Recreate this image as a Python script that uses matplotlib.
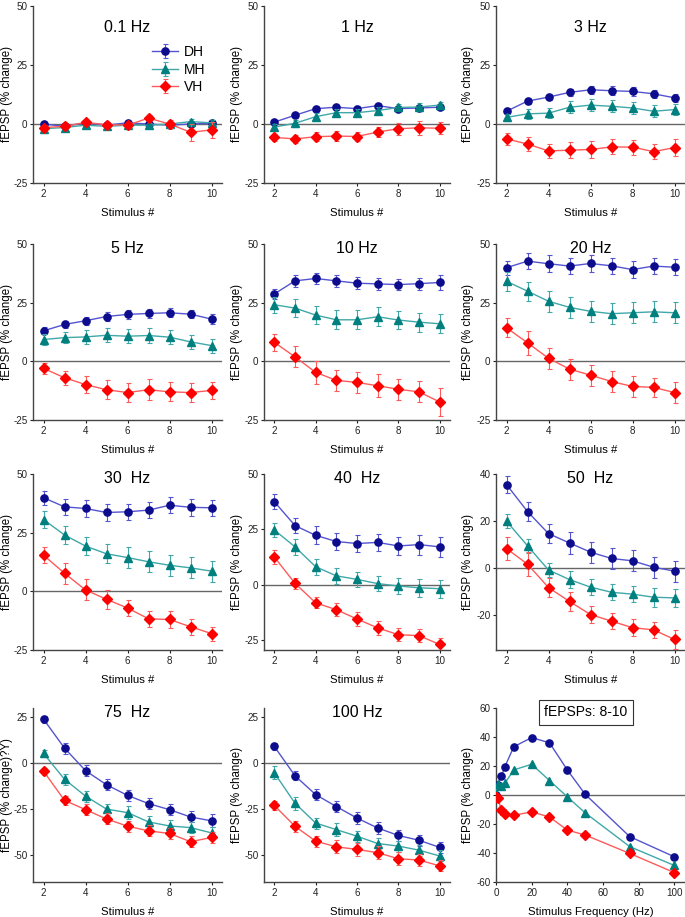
import matplotlib
matplotlib.use("Agg")
import matplotlib.pyplot as plt
import numpy as np

plt.rcParams['font.family'] = ['Liberation Sans', 'DejaVu Sans']
plt.rcParams['axes.unicode_minus'] = False

stim = [2, 3, 4, 5, 6, 7, 8, 9, 10]
titles = ['0.1 Hz', '1 Hz', '3 Hz', '5 Hz', '10 Hz', '20 Hz',
          '30  Hz', '40  Hz', '50  Hz', '75  Hz', '100 Hz']

# mean % change, one list per panel
dh_mean = [
    [0, -1, 0.5, -0.5, 0.5, 0, -0.5, 0, 0.3],
    [0.8, 3.7, 6.5, 7.1, 6.5, 7.8, 6.5, 6.8, 7.1],
    [5.4, 9.7, 11.4, 13.4, 14.5, 14.1, 13.8, 12.8, 11.1],
    [13, 15.7, 17.3, 19.1, 20, 20.4, 20.7, 20.1, 18],
    [28.7, 34.3, 35.3, 34.3, 33.3, 33, 32.7, 33.1, 33.6],
    [39.9, 42.7, 41.6, 40.6, 41.7, 40.7, 39.1, 40.6, 40.1],
    [39.9, 36, 35.3, 33.6, 33.9, 34.6, 36.7, 35.8, 35.6],
    [37.5, 26.7, 22.3, 19.5, 18.6, 19.1, 17.5, 18.1, 17.1],
    [35.5, 24, 14.6, 10.6, 6.7, 4, 3, 0.3, -1.4],
    [23.9, 8.1, -4.2, -11.9, -17.7, -22.2, -25.5, -29.5, -31.6],
    [9, -7, -17.3, -23.8, -30.1, -35.5, -39.6, -42.2, -46.1],
]
mh_mean = [
    [-2, -1.5, -0.5, -1, -0.5, -0.5, 0, 1, 0.5],
    [-1.3, 0.3, 3.1, 4.8, 4.8, 5.7, 7, 7.2, 8],
    [2.8, 4.3, 4.6, 7.1, 8, 7.5, 6.8, 5.4, 6.1],
    [9.3, 10.1, 10.4, 11.1, 10.7, 11, 10.3, 8.3, 6.7],
    [24.1, 22.7, 19.7, 17.7, 17.7, 19, 17.6, 16.7, 16],
    [34.1, 29.9, 25.6, 23, 21.3, 20.3, 20.7, 21.1, 20.7],
    [30.6, 24, 19.3, 16, 14.4, 12.6, 11.1, 10, 8.6],
    [24.7, 17.1, 8.1, 4, 2.4, 0.5, -0.6, -1.4, -1.8],
    [19.9, 9.4, -0.9, -5, -8.2, -10.4, -11.2, -12.5, -12.8],
    [5.2, -8.9, -18.1, -25.2, -27.1, -32.2, -34.4, -35.3, -38.2],
    [-5.4, -22, -32.8, -36.4, -40, -44, -45.4, -47.6, -50.8],
]
vh_mean = [
    [-1.5, -1, 0.7, -0.3, -0.5, 2.5, 0, -3.5, -2.5],
    [-5.7, -6.3, -5.4, -5.1, -5.3, -3.4, -2, -1.6, -1.8],
    [-6.3, -8.5, -11.4, -11.1, -10.8, -9.7, -9.8, -11.7, -10],
    [-3, -7, -9.9, -12.1, -13.3, -12.1, -13, -13.3, -12.4],
    [8.1, 1.9, -4.7, -8.1, -9, -10.4, -11.9, -13, -17.3],
    [14.3, 7.9, 1.3, -3.3, -5.9, -8.6, -10.7, -11.1, -13.3],
    [15.4, 7.7, 0.6, -3.4, -7.1, -11.7, -12, -15.1, -18],
    [12.5, 0.6, -8.2, -11.3, -15.5, -19.5, -22.6, -23, -27],
    [8.2, 1.6, -8.4, -14.3, -19.9, -22.7, -25.5, -26.4, -30.5],
    [-4.5, -20.4, -25.5, -30.6, -34.5, -37.1, -38.5, -43, -40.7],
    [-23.2, -34.6, -42.7, -45.8, -47.2, -49, -52.3, -53, -56.2],
]

# SEM
dh_err = [
    [0.8] * 9,
    [1.0] * 9,
    [1.2, 1.2, 1.2, 1.5, 1.8, 1.8, 1.8, 1.8, 1.8],
    [1.5, 1.5, 1.8, 2, 2, 2, 2, 1.8, 2],
    [2, 2.5, 2.5, 2.5, 2.5, 2.5, 2.5, 2.5, 3],
    [3, 3.5, 3.5, 3.5, 3.5, 3.5, 3.5, 3.5, 3.5],
    [3, 3.5, 3.5, 3.5, 3.5, 3.5, 3.5, 3.5, 3.5],
    [3.5, 3.5, 4, 4, 4, 4, 4, 4.5, 4.5],
    [3.5, 4, 4, 4.5, 4.5, 4.5, 4.5, 4.5, 4.5],
    [2, 3, 3, 3, 3, 3, 3, 3, 3.5],
    [2, 2.5, 3, 3, 3.5, 3.5, 3, 3, 3],
]
mh_err = [
    [1.0] * 9,
    [1.5] * 9,
    [1.5, 2, 2.2, 2.5, 2.5, 2.5, 2.5, 2.5, 2.2],
    [2.5, 2.5, 3, 3, 3, 3, 3, 3, 3],
    [3.5, 4, 4, 4, 4, 4, 4, 4, 4],
    [4, 4, 4.5, 4.5, 4.5, 4.5, 4.5, 4.5, 4.5],
    [3.5, 4, 4, 4, 4.5, 4.5, 4.5, 4.5, 4.5],
    [3, 3.5, 3.5, 3.5, 3.5, 3.5, 3.5, 4, 4],
    [3, 3, 3, 3.5, 3.5, 3.5, 3.5, 4, 4],
    [2, 3, 3, 3, 3.5, 3, 3, 3, 3],
    [3.5, 3.5, 3, 3.5, 3, 3, 3, 3, 3],
]
vh_err = [
    [1.0, 1.0, 1.2, 1.0, 1.2, 1.2, 1.5, 3.5, 3.5],
    [1.5, 1.8, 2, 2, 2, 2, 2.5, 3, 2.5],
    [2.5, 3, 3, 3.5, 3.5, 3.2, 3.2, 3.2, 3.5],
    [2.5, 3, 3.5, 4, 4, 4.5, 4, 4, 3.8],
    [3.5, 4.5, 5, 4.5, 4.5, 5, 4.5, 4.5, 6],
    [4, 5, 4.5, 4.5, 4.5, 4.5, 4.5, 4, 4.5],
    [3.5, 4.5, 4.5, 4, 3.5, 3.5, 3.5, 3.5, 3],
    [3, 2.5, 2.5, 3, 3, 3, 3, 3, 3],
    [5, 5, 4, 4, 3.5, 3.5, 3.5, 3.5, 4],
    [2, 2.5, 3, 3, 3, 3, 3, 3, 3],
    [2.5, 3, 3, 3.5, 3.5, 3.5, 3.5, 3.5, 3],
]

# summary panel: mean of fEPSPs 8-10 vs frequency
freq = [0.1, 1, 3, 5, 10, 20, 30, 40, 50, 75, 100]
dh_sum = [0, 7, 12.8, 19.6, 33.3, 39.6, 36, 17.3, 0.5, -28.7, -42.6]
mh_sum = [0.5, 7.5, 6, 8.2, 17.3, 21.2, 10, -1.3, -12.3, -35.6, -48.6]
vh_sum = [-1.5, -1.8, -10.3, -12.9, -14, -11.6, -15.2, -24.2, -27.6, -40.3, -53.5]

groups = ['DH', 'MH', 'VH']
markers = ['o', '^', 'D']
mk_colors = ['#0c0c8c', '#007f7f', '#ff0000']
ln_colors = ['#5454d0', '#40a8a8', '#ff5a5a']

fig = plt.figure(figsize=(6.85, 9.17), dpi=100)
W, H = 685.0, 917.0
cols = [(33, 222), (264, 450), (496, 685)]
rows = [(6, 183), (244, 420), (474, 650), (708, 882)]
ylab_off = [19.5, 21, 22]   # px from the spine to the right edge of the y label


def make_ax(r, c):
    x0, x1 = cols[c]
    y0, y1 = rows[r]
    return fig.add_axes([x0 / W, 1 - y1 / H, (x1 - x0) / W, (y1 - y0) / H])


def style(ax, c):
    for s in ['top', 'right']:
        ax.spines[s].set_visible(False)
    for s in ['left', 'bottom']:
        ax.spines[s].set_color('#444444')
        ax.spines[s].set_linewidth(1.0)
    ax.tick_params(labelsize=7.1, length=2.5, width=0.8, colors='#222222', pad=1.5)
    w = cols[c][1] - cols[c][0]
    ax.yaxis.set_label_coords(-ylab_off[c] / w, 0.5)


for i, t in enumerate(titles):
    r, c = divmod(i, 3)
    ax = make_ax(r, c)
    style(ax, c)
    means = [dh_mean[i], mh_mean[i], vh_mean[i]]
    errs = [dh_err[i], mh_err[i], vh_err[i]]
    ax.axhline(0, color='#666666', lw=1.0, zorder=1)
    for g in range(3):
        ax.errorbar(stim, means[g], yerr=errs[g], color=ln_colors[g], lw=1.0,
                     elinewidth=0.8, capsize=1.8, capthick=0.8,
                     marker=markers[g], ms=5.2 if g < 2 else 4.6,
                     mfc=mk_colors[g], mec=mk_colors[g], label=groups[g], zorder=3 + g)
    ax.set_xlim(1.5, 10.5)
    ax.set_xticks([2, 4, 6, 8, 10])
    if i == 7:
        ax.set_ylim(-29.5, 50)
        ax.set_yticks([-25, 0, 25, 50])
    elif i == 8:
        ax.set_ylim(-35, 40)
        ax.set_yticks([-20, 0, 20, 40])
    elif i >= 9:
        ax.set_ylim(-65, 30)
        ax.set_yticks([-50, -25, 0, 25])
    else:
        ax.set_ylim(-25, 50)
        ax.set_yticks([-25, 0, 25, 50])
    ax.set_xlabel('Stimulus #', fontsize=8.2, labelpad=6.5)
    ylab = 'fEPSP (% change)?Y)' if i == 9 else 'fEPSP (% change)'
    ax.set_ylabel(ylab, fontsize=8.3)
    ty = 0.88 if r == 0 else 0.975
    ax.text(0.5, ty, t, transform=ax.transAxes, ha='center', va='center', fontsize=11.5)
    if i == 0:
        ax.legend(loc='upper left', bbox_to_anchor=(0.6, 0.81), frameon=False,
                  fontsize=10, handlelength=1.9, handletextpad=0.4,
                  labelspacing=0.25, borderaxespad=0)

# summary panel
ax = make_ax(3, 2)
style(ax, 2)
ax.axhline(0, color='#666666', lw=1.0, zorder=1)
for g, vals in enumerate([dh_sum, mh_sum, vh_sum]):
    ax.plot(freq, vals, color=ln_colors[g], lw=1.0, marker=markers[g],
            ms=5.2 if g < 2 else 4.6, mfc=mk_colors[g], mec=mk_colors[g], zorder=3 + g)
ax.set_xlim(0, 106)
ax.set_xticks([0, 20, 40, 60, 80, 100])
ax.set_ylim(-60, 60)
ax.set_yticks([-60, -40, -20, 0, 20, 40, 60])
ax.set_xlabel('Stimulus Frequency (Hz)', fontsize=8.2, labelpad=6.5)
ax.set_ylabel('fEPSP (% change)', fontsize=8.3)
ax.text(0.476, 0.975, 'fEPSPs: 8-10', transform=ax.transAxes, ha='center', va='center',
        fontsize=10, bbox=dict(boxstyle='square,pad=0.4', fc='white', ec='#333333', lw=0.8),
        zorder=10)

fig.savefig('out.png', dpi=100)
